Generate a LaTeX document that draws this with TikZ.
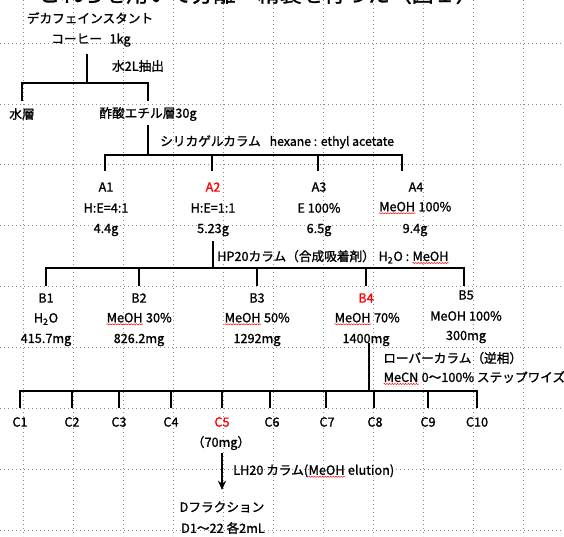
\documentclass[tikz,border=0pt]{standalone}
\usepackage{fontspec}
\setmainfont{Noto Sans CJK JP}[FakeBold=1.2]
\usetikzlibrary{arrows.meta,decorations.pathmorphing}
\newcommand\sqw[1]{\tikz[baseline=(sqwd.base), x=1pt, y=1pt]{\node[inner sep=0pt] (sqwd) {#1}; \draw[red, line width=0.35pt, decorate, decoration={snake, amplitude=0.45pt, segment length=2pt}] ([yshift=-1.2pt]sqwd.south west) -- ([yshift=-1.2pt]sqwd.south east);}}
\begin{document}
\begin{tikzpicture}[x=0.75pt,y=-0.75pt,
  txt/.style={inner sep=0pt, font=\fontsize{9.5}{11}\selectfont},
  redtxt/.style={txt, text=red},
  conn/.style={line width=1.3pt, line cap=rect},
  grid/.style={black!45, line width=0.6pt, dash pattern=on 0.75pt off 2.25pt}]
\useasboundingbox (0,0) rectangle (564,536);
% background grid
\foreach \gx in {23,73,...,523} \draw[grid] (\gx,0) -- (\gx,536);
\foreach \gy in {43,103.9,164.8,225.7,286.6,347.5,408.4,469.3,530.2} \draw[grid] (0,\gy) -- (564,\gy);
% cut-off title
\begin{scope}
\clip (0,0) rectangle (564,20);
\node[inner sep=0pt, anchor=base, font=\fontsize{16.5}{18}\selectfont] (title) at (258,2) {これらを用いて分離・精製を行った（図１）};
\end{scope}
% top
\node[txt] (coffee1) at (90,18) {デカフェインスタント};
\node[txt] (coffee2) at (91,40) {コーヒー\hspace{0.6em}1kg};
\coordinate (s0) at (87,55);
\coordinate (j0) at (87,83);
\coordinate (j0l) at (22,83);
\coordinate (j0r) at (148,83);
\coordinate (t0l) at (22,100);
\coordinate (t0r) at (148,100);
\draw[conn] (s0) -- (j0);
\draw[conn] (t0l) -- (j0l) -- (j0r) -- (t0r);
\node[txt] (ext) at (138,66) {水2L抽出};
\node[txt] (water) at (22,114) {水層};
\node[txt] (etac) at (148,114) {酢酸エチル層30g};
% silica
\coordinate (s1) at (148,126);
\coordinate (j1) at (148,155);
\draw[conn] (s1) -- (j1);
\coordinate (t1a) at (105,170);
\coordinate (t1b) at (212,170);
\coordinate (t1c) at (318,170);
\coordinate (t1d) at (402,170);
\draw[conn] (t1a) -- (105,155) -- (402,155) -- (t1d);
\draw[conn] (212,155) -- (t1b);
\draw[conn] (318,155) -- (t1c);
\node[txt, anchor=west] (silica) at (160,142) {シリカゲルカラム\hspace{0.7em}{\fontsize{9.2}{10}\selectfont hexane : ethyl acetate}};
\node[txt] (A1) at (106,187) {A1};
\node[redtxt] (A2) at (213,187) {A2};
\node[txt] (A3) at (319,187) {A3};
\node[txt] (A4) at (416,187) {A4};
\node[txt] (A1s) at (106,208) {H:E=4:1};
\node[txt] (A2s) at (213,208) {H:E=1:1};
\node[txt] (A3s) at (319,208) {E 100\%};
\node[txt] (A4s) at (415,208) {\sqw{MeOH} 100\%};
\node[txt] (A1w) at (106,230) {4.4g};
\node[txt] (A2w) at (213,230) {5.23g};
\node[txt] (A3w) at (319,230) {6.5g};
\node[txt] (A4w) at (415,230) {9.4g};
% HP20
\coordinate (s2) at (213,242);
\coordinate (j2) at (213,268);
\draw[conn] (s2) -- (j2);
\draw[conn] (46,285) -- (46,268) -- (464,268) -- (464,285);
\coordinate (t2b) at (139,285);
\coordinate (t2c) at (257,285);
\coordinate (t2d) at (366,285);
\draw[conn] (139,268) -- (t2b);
\draw[conn] (257,268) -- (t2c);
\draw[conn] (366,268) -- (t2d);
\node[txt, anchor=west] (hp20) at (217,257) {HP20カラム（合成吸着剤）\hspace{0.3em}H\textsubscript{2}O : \sqw{MeOH}};
\node[txt] (B1) at (46,298) {B1};
\node[txt] (B2) at (139,298) {B2};
\node[txt] (B3) at (257,298) {B3};
\node[redtxt] (B4) at (366,298) {B4};
\node[txt] (B5) at (466,295) {B5};
\node[txt] (B1s) at (46,319) {H\textsubscript{2}O};
\node[txt] (B2s) at (139,319) {\sqw{MeOH} 30\%};
\node[txt] (B3s) at (257,319) {\sqw{MeOH} 50\%};
\node[txt] (B4s) at (367,319) {\sqw{MeOH} 70\%};
\node[txt] (B5s) at (466,316) {MeOH 100\%};
\node[txt] (B1w) at (46,340) {415.7mg};
\node[txt] (B2w) at (139,340) {826.2mg};
\node[txt] (B3w) at (257,340) {1292mg};
\node[txt] (B4w) at (366,340) {1400mg};
\node[txt] (B5w) at (466,337) {300mg};
% Lobar
\coordinate (s3) at (369,344);
\coordinate (j3) at (369,391);
\draw[conn] (s3) -- (j3);
\node[txt, anchor=west] (lobar1) at (383,358) {ローバーカラム（逆相）};
\node[txt, anchor=west] (lobar2) at (383,378) {\sqw{MeCN} 0〜100\% ステップワイズ};
\draw[conn] (20,407) -- (20,391) -- (477,391) -- (477,407);
\foreach \cx in {72,119,171,222,270,326,374,428} \draw[conn] (\cx,391) -- (\cx,407);
\node[txt] (C1) at (20,422) {C1};
\node[txt] (C2) at (72,422) {C2};
\node[txt] (C3) at (119,422) {C3};
\node[txt] (C4) at (171,422) {C4};
\node[redtxt] (C5) at (222,422) {C5};
\node[txt] (C6) at (272,422) {C6};
\node[txt] (C7) at (327,422) {C7};
\node[txt] (C8) at (375,422) {C8};
\node[txt] (C9) at (428,422) {C9};
\node[txt] (C10) at (477,422) {C10};
\node[txt] (C5w) at (221,443) {（70mg）};
% LH20
\coordinate (s4) at (222,453);
\coordinate (e4) at (222,490);
\draw[line width=1.3pt, -{Stealth[length=7pt,width=6pt]}] (s4) -- (e4);
\node[txt, anchor=west] (lh20) at (233,471) {LH20 カラム(\sqw{MeOH} elution)};
\node[txt] (D1) at (222,507) {Dフラクション};
\node[txt] (D2) at (223,528) {D1〜22 各2mL};
\end{tikzpicture}
\end{document}
